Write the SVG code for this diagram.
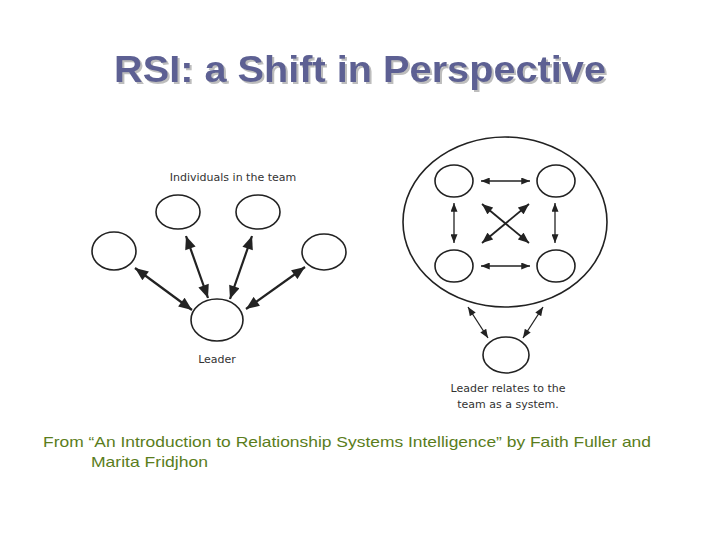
<svg xmlns="http://www.w3.org/2000/svg" width="720" height="540" viewBox="0 0 720 540">
<defs>
<style>
.node{fill:#fff;stroke:#222;stroke-width:1.6}
.lbl{font-family:"DejaVu Sans","Open Sans",sans-serif;font-size:11px;fill:#333;text-anchor:middle}
.big{stroke:#222;stroke-width:2.2;fill:none}
.thin{stroke:#222;stroke-width:1.3;fill:none}
.mid{stroke:#222;stroke-width:1.8;fill:none}
</style>
<filter id="sh" x="-5%" y="-20%" width="110%" height="140%"><feDropShadow dx="2" dy="2" stdDeviation="0.6" flood-color="#bdbdbd" flood-opacity="1"/></filter>
<marker id="hb" viewBox="0 0 12 10" refX="12" refY="5" markerWidth="15" markerHeight="11" markerUnits="userSpaceOnUse" orient="auto-start-reverse"><path d="M0,0 L12,5 L0,10 Z" fill="#222"/></marker>
<marker id="hs" viewBox="0 0 10 8" refX="10" refY="4" markerWidth="10" markerHeight="7" markerUnits="userSpaceOnUse" orient="auto-start-reverse"><path d="M0,0 L10,4 L0,8 Z" fill="#222"/></marker>
<marker id="hm" viewBox="0 0 12 10" refX="12" refY="5" markerWidth="12" markerHeight="9" markerUnits="userSpaceOnUse" orient="auto-start-reverse"><path d="M0,0 L12,5 L0,10 Z" fill="#222"/></marker>
</defs>
<rect width="720" height="540" fill="#fff"/>
<g id="title">
<text x="360" y="82" font-family="Liberation Sans,Arial,sans-serif" font-weight="bold" font-size="36" fill="#5d6193" text-anchor="middle" textLength="492" lengthAdjust="spacingAndGlyphs" filter="url(#sh)">RSI: a Shift in Perspective</text>
</g>
<g id="team"><ellipse class="node" cx="505" cy="222" rx="102" ry="85" stroke-width="1.4"/></g>
<g id="connectors">
<line class="big" x1="135" y1="268" x2="192" y2="310" marker-start="url(#hb)" marker-end="url(#hb)"/>
<line class="big" x1="186" y1="236" x2="208" y2="298" marker-start="url(#hb)" marker-end="url(#hb)"/>
<line class="big" x1="252" y1="236" x2="230" y2="299" marker-start="url(#hb)" marker-end="url(#hb)"/>
<line class="big" x1="305" y1="267" x2="246" y2="309" marker-start="url(#hb)" marker-end="url(#hb)"/>
<line class="thin" x1="481" y1="181" x2="530" y2="181" marker-start="url(#hs)" marker-end="url(#hs)"/>
<line class="thin" x1="481" y1="266" x2="530" y2="266" marker-start="url(#hs)" marker-end="url(#hs)"/>
<line class="thin" x1="454" y1="203" x2="454" y2="243" marker-start="url(#hs)" marker-end="url(#hs)"/>
<line class="thin" x1="555" y1="203" x2="555" y2="243" marker-start="url(#hs)" marker-end="url(#hs)"/>
<line class="mid" x1="482" y1="204" x2="529" y2="243" marker-start="url(#hm)" marker-end="url(#hm)"/>
<line class="mid" x1="529" y1="204" x2="482" y2="243" marker-start="url(#hm)" marker-end="url(#hm)"/>
<line class="thin" x1="468" y1="307" x2="488" y2="338" marker-start="url(#hs)" marker-end="url(#hs)"/>
<line class="thin" x1="543" y1="307" x2="523" y2="338" marker-start="url(#hs)" marker-end="url(#hs)"/>
</g>
<g id="individuals-label"><text class="lbl" x="233" y="181">Individuals in the team</text></g>
<g id="ind1"><ellipse class="node" cx="114" cy="251" rx="22" ry="19"/></g>
<g id="ind2"><ellipse class="node" cx="178" cy="212" rx="22" ry="17"/></g>
<g id="ind3"><ellipse class="node" cx="258" cy="212" rx="22" ry="17"/></g>
<g id="ind4"><ellipse class="node" cx="324" cy="252" rx="22" ry="18"/></g>
<g id="leader1"><ellipse class="node" cx="217" cy="320" rx="26" ry="21"/><text class="lbl" x="217" y="363">Leader</text></g>
<g id="m1"><ellipse class="node" cx="454" cy="181" rx="19" ry="16" stroke-width="1.3"/></g>
<g id="m2"><ellipse class="node" cx="556" cy="181" rx="19" ry="16" stroke-width="1.3"/></g>
<g id="m3"><ellipse class="node" cx="454" cy="266" rx="19" ry="16" stroke-width="1.3"/></g>
<g id="m4"><ellipse class="node" cx="556" cy="266" rx="19" ry="16" stroke-width="1.3"/></g>
<g id="leader2"><ellipse class="node" cx="506" cy="355" rx="23" ry="18" stroke-width="1.3"/>
<text class="lbl" x="508" y="392">Leader relates to the</text>
<text class="lbl" x="508" y="408">team as a system.</text></g>
<g id="footer" font-family="Liberation Sans,Arial,sans-serif" font-size="15" fill="#5a7d1c">
<text x="43" y="447" textLength="608" lengthAdjust="spacingAndGlyphs">From  “An Introduction to Relationship Systems Intelligence”  by Faith Fuller and</text>
<text x="91" y="467" textLength="117" lengthAdjust="spacingAndGlyphs">Marita Fridjhon</text>
</g>
</svg>
